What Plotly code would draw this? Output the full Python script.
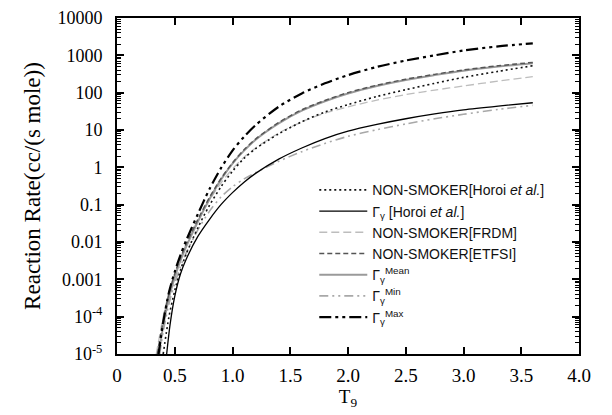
import plotly.graph_objects as go

# ---------------- data ----------------
T_nsm_horoi = [0.40, 0.45, 0.50, 0.55, 0.60, 0.70, 0.80, 0.90, 1.00, 1.10, 1.20, 1.40, 1.60, 1.80, 2.00, 2.25, 2.50, 2.75, 3.00, 3.30, 3.60]
R_nsm_horoi = [1.0e-5, 1.0e-4, 5.0e-4, 1.78e-3, 4.8e-3, 2.4e-2, 9.5e-2, 0.30, 0.79, 1.74, 3.16, 7.9, 16.6, 30.2, 47.9, 79, 120, 178, 257, 372, 525]

T_gam_horoi = [0.43, 0.46, 0.50, 0.55, 0.60, 0.70, 0.80, 0.90, 1.00, 1.10, 1.20, 1.40, 1.60, 1.80, 2.00, 2.25, 2.50, 2.75, 3.00, 3.30, 3.60]
R_gam_horoi = [1.0e-5, 6.3e-5, 3.5e-4, 1.41e-3, 3.5e-3, 1.41e-2, 4.0e-2, 0.10, 0.21, 0.40, 0.69, 1.66, 3.3, 5.9, 9.3, 14.1, 20, 26.9, 34.7, 43.7, 53.7]

T_frdm = [0.34, 0.40, 0.45, 0.50, 0.55, 0.60, 0.70, 0.80, 0.90, 1.00, 1.10, 1.20, 1.40, 1.60, 1.80, 2.00, 2.25, 2.50, 2.75, 3.00, 3.30, 3.60]
R_frdm = [1.0e-5, 1.0e-4, 4.5e-4, 1.41e-3, 3.8e-3, 8.9e-3, 3.8e-2, 0.132, 0.38, 0.91, 1.86, 3.3, 8.3, 16.6, 28.2, 41.7, 63, 89, 117, 151, 204, 269]

T_etfsi = [0.35, 0.40, 0.45, 0.50, 0.55, 0.60, 0.70, 0.80, 0.90, 1.00, 1.10, 1.20, 1.40, 1.60, 1.80, 2.00, 2.25, 2.50, 2.75, 3.00, 3.30, 3.60]
R_etfsi = [1.0e-5, 7.9e-5, 4.2e-4, 1.41e-3, 3.8e-3, 8.9e-3, 4.0e-2, 0.155, 0.50, 1.32, 2.95, 5.75, 15.8, 34.7, 61.7, 100, 158, 229, 309, 407, 525, 646]

T_mean = [0.36, 0.40, 0.45, 0.50, 0.55, 0.60, 0.70, 0.80, 0.90, 1.00, 1.10, 1.20, 1.40, 1.60, 1.80, 2.00, 2.25, 2.50, 2.75, 3.00, 3.30, 3.60]
R_mean = [1.0e-5, 5.6e-5, 3.2e-4, 1.12e-3, 3.2e-3, 7.6e-3, 3.5e-2, 0.14, 0.47, 1.26, 2.8, 5.5, 15.1, 33, 59, 95, 151, 219, 295, 389, 501, 617]

T_min = [0.37, 0.40, 0.45, 0.50, 0.55, 0.60, 0.70, 0.80, 0.90, 1.00, 1.10, 1.20, 1.40, 1.60, 1.80, 2.00, 2.25, 2.50, 2.75, 3.00, 3.30, 3.60]
R_min = [1.0e-5, 4.0e-5, 2.2e-4, 7.9e-4, 2.2e-3, 5.2e-3, 2.1e-2, 6.6e-2, 0.16, 0.30, 0.49, 0.72, 1.45, 2.63, 4.37, 6.76, 10.2, 14.5, 20.0, 26.3, 35.5, 45.7]

T_max = [0.36, 0.40, 0.45, 0.50, 0.55, 0.60, 0.70, 0.80, 0.90, 1.00, 1.10, 1.20, 1.40, 1.60, 1.80, 2.00, 2.25, 2.50, 2.75, 3.00, 3.30, 3.60]
R_max = [1.0e-5, 7.1e-5, 4.5e-4, 1.6e-3, 4.5e-3, 1.12e-2, 5.6e-2, 0.26, 0.95, 2.8, 6.6, 13.5, 42, 95, 178, 295, 490, 725, 1000, 1350, 1740, 2090]

x_tickvals = [0, 0.5, 1.0, 1.5, 2.0, 2.5, 3.0, 3.5, 4.0]
x_ticktext = ["0", "0.5", "1.0", "1.5", "2.0", "2.5", "3.0", "3.5", "4.0"]
y_tickvals = [1e4, 1e3, 1e2, 1e1, 1, 0.1, 0.01, 0.001, 1e-4, 1e-5]
y_ticktext = ["10000", "1000", "100", "10", "1", "0.1", "0.01", "0.001", "10<sup>-4</sup>", "10<sup>-5</sup>"]

names = {
    "nsm": "NON-SMOKER[Horoi <i>et al.</i>]",
    "gam": "Γ<sub>γ</sub> [Horoi <i>et al.</i>]",
    "frdm": "NON-SMOKER[FRDM]",
    "etfsi": "NON-SMOKER[ETFSI]",
    "mean": "Γ<sub>γ</sub><sup>Mean</sup>",
    "min": "Γ<sub>γ</sub><sup>Min</sup>",
    "max": "Γ<sub>γ</sub><sup>Max</sup>",
}

fig = go.Figure()

def add(x, y, name, color, width, dash, rank, group):
    fig.add_trace(go.Scatter(
        x=x, y=y, name=name, mode="lines",
        line=dict(color=color, width=width, dash=dash, shape="spline", smoothing=0.8),
        legendrank=rank, legendgroup=group,
    ))

# drawing order: light ones first
add(T_frdm, R_frdm, names["frdm"], "#bdbdbd", 1.3, "8px,4px", 3, "b")
add(T_min, R_min, names["min"], "#a8a8a8", 1.6, "9px,4px,2px,4px,2px,4px", 6, "d")
add(T_mean, R_mean, names["mean"], "#9a9a9a", 2.0, "solid", 5, "c")
add(T_etfsi, R_etfsi, names["etfsi"], "#555555", 1.5, "5px,3px", 4, "b")
add(T_nsm_horoi, R_nsm_horoi, names["nsm"], "#111111", 1.6, "2px,3px", 1, "a")
add(T_gam_horoi, R_gam_horoi, names["gam"], "#000000", 1.3, "solid", 2, "a")
add(T_max, R_max, names["max"], "#000000", 2.2, "12px,4px,3px,4px,3px,4px", 7, "e")

serif = "Liberation Serif, Times New Roman, serif"
sans = "Liberation Sans, Arial, sans-serif"

fig.update_layout(
    width=612, height=415,
    margin=dict(l=109, r=41, t=10, b=69),
    paper_bgcolor="white", plot_bgcolor="white",
    showlegend=True,
    legend=dict(
        x=0.427, y=0.535, xanchor="left", yanchor="top",
        font=dict(family=sans, size=14, color="#111"),
        bgcolor="rgba(0,0,0,0)", traceorder="grouped", tracegroupgap=0,
        itemwidth=48,
    ),
    font=dict(family=serif, color="black"),
)

fig.update_xaxes(
    range=[0, 4.0], tickmode="array", tickvals=x_tickvals, ticktext=x_ticktext,
    ticks="inside", ticklen=7, tickwidth=1.6, tickcolor="black",
    showline=True, linewidth=2, linecolor="black", mirror="ticks",
    showgrid=False, zeroline=False, automargin=False,
    ticklabelstandoff=3,
    tickfont=dict(family=serif, size=19),
    title=dict(text="T<sub>9</sub>", font=dict(family=serif, size=19), standoff=3),
)
fig.update_yaxes(
    type="log", range=[-5, 4], tickmode="array", tickvals=y_tickvals, ticktext=y_ticktext,
    ticks="inside", ticklen=7, tickwidth=1.6, tickcolor="black",
    minor=dict(ticks="inside", ticklen=4, tickwidth=1.2, tickcolor="black", dtick="D1", showgrid=False),
    showline=True, linewidth=2, linecolor="black", mirror="ticks",
    showgrid=False, zeroline=False, automargin=False,
    ticklabelstandoff=9, ticklabeloverflow="allow",
    tickfont=dict(family=serif, size=18),
    title=dict(text="Reaction Rate(cc/(s mole))", font=dict(family=serif, size=23), standoff=10),
)

fig.write_html("out.html")
